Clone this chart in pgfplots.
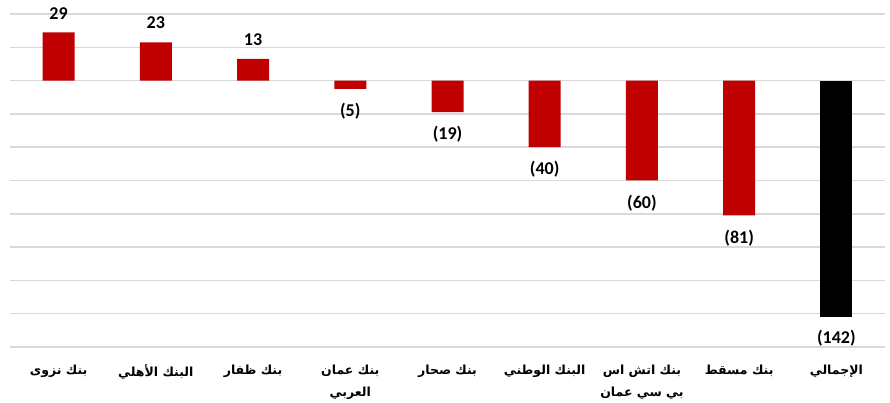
\documentclass[border=0pt]{standalone}
\usepackage{pgfplots}
\pgfplotsset{compat=1.18}
\usepackage{fontspec}
\setmainfont{Carlito}
\newfontfamily\arabicfont[Script=Arabic]{DejaVu Sans}
\TeXXeTstate=1
\definecolor{barred}{HTML}{C00000}
\definecolor{gridgray}{HTML}{D9D9D9}
\begin{document}
\begin{tikzpicture}
\useasboundingbox (-10bp,-56bp) rectangle (880bp,347bp);
\begin{axis}[
  at={(0,0)}, anchor=south west,
  scale only axis, width=875bp, height=333bp,
  xmin=-0.5, xmax=8.5, ymin=-160, ymax=40,
  ybar, bar width=32bp, bar shift=0pt,
  axis line style={draw=none},
  ytick={-160,-140,...,40}, yticklabel=\empty,
  ymajorgrids, major grid style={gridgray, line width=1.5bp},
  major tick length=0pt,
  xtick={0,...,8},
  xticklabels={
    {\beginR بنك نزوى\endR},
    {\beginR البنك الأهلي\endR},
    {\beginR بنك ظفار\endR},
    {\beginR بنك عمان\endR\\\beginR العربي\endR},
    {\beginR بنك صحار\endR},
    {\beginR البنك الوطني\endR},
    {\beginR بنك اتش اس\endR\\\beginR بي سي عمان\endR},
    {\beginR بنك مسقط\endR},
    {\beginR الإجمالي\endR}},
  xticklabel style={align=center, font=\arabicfont\bfseries\fontsize{12.5bp}{22bp}\selectfont, yshift=-14bp},
  nodes near coords, point meta=explicit symbolic,
  every node near coord/.append style={font=\fontsize{18bp}{20bp}\selectfont\bfseries, inner sep=0pt},
  clip=false,
]
\addplot[fill=barred, draw=none,
  nodes near coords style={anchor=south, yshift=13bp}] coordinates {
  (0,29) [29]
  (1,23) [23]
  (2,13) [13]
};
\addplot[fill=barred, draw=none,
  nodes near coords style={anchor=north, yshift=-14bp}] coordinates {
  (3,-5) [(5)]
  (4,-19) [(19)]
  (5,-40) [(40)]
  (6,-60) [(60)]
  (7,-81) [(81)]
};
\addplot[fill=black, draw=none,
  nodes near coords style={anchor=north, yshift=-13bp}] coordinates {
  (8,-142) [(142)]
};
\end{axis}
\end{tikzpicture}
\end{document}
